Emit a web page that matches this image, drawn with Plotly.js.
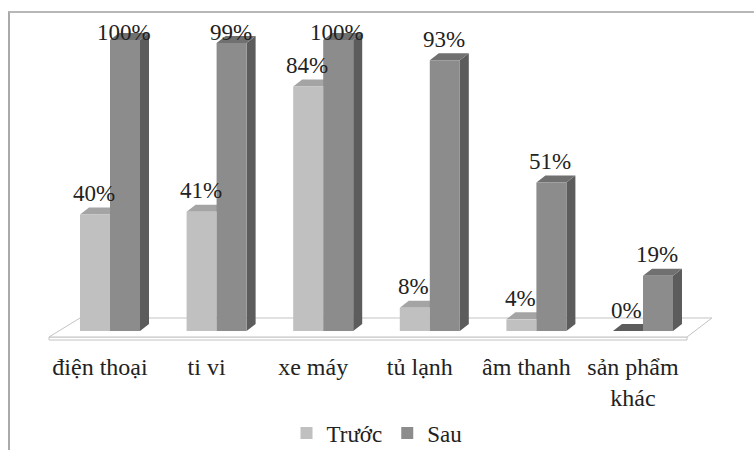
<!DOCTYPE html>
<html>
<head>
<meta charset="utf-8">
<script src="https://cdn.plot.ly/plotly-3.0.1.min.js"></script>
<style>
  html, body { margin: 0; padding: 0; background: #ffffff; }
  #wrap { position: relative; width: 754px; height: 450px; overflow: hidden; }
  #frame { position: absolute; left: 8px; top: 11px; width: 800px; height: 500px;
           border-top: 2px solid #b8b8b8; border-left: 2px solid #aaaaaa; pointer-events: none; }
  #chart { position: absolute; left: 0; top: 0; width: 754px; height: 450px; }
</style>
</head>
<body>
<div id="wrap">
  <div id="chart"></div>
  <div id="frame"></div>
</div>
<script>
// Share of households owning each item, before and after
const categories = ['điện thoại', 'ti vi', 'xe máy', 'tủ lạnh', 'âm thanh', 'sản phẩm khác'];
const tickLabels = ['điện thoại', 'ti vi', 'xe máy', 'tủ lạnh', 'âm thanh', 'sản phẩm<br>khác'];
const seriesNames = ['Trước', 'Sau'];
const truoc = [40, 41, 84, 8, 4, 0];
const sau = [100, 99, 100, 93, 51, 19];

// Plot geometry (pixels) used to fake the 3D extrusion of each column
const W = 754, H = 450;
const M = { l: 14, r: 14, t: 14, b: 105, autoexpand: false };
const XR = [-0.9006, 5.910];
const YR = [-4.811, 108.93];
const pxX = (W - M.l - M.r) / (XR[1] - XR[0]);
const pxY = (H - M.t - M.b) / (YR[1] - YR[0]);
const DX = 9 / pxX;      // depth offset to the right
const DY = 7 / pxY;      // depth offset upwards
const BARGAP = 0.437;
const BW = (1 - BARGAP) / 2;

const FRONT = ['#c0c0c0', '#8c8c8c'];
const TOP = ['#a4a4a4', '#707070'];
const SIDE = ['#8a8a8a', '#5c5c5c'];
const FONT = '"Times New Roman", "Liberation Serif", "DejaVu Serif", serif';
const INK = '#222222';

const idx = categories.map((_, i) => i);

const traces = [truoc, sau].map((vals, s) => ({
  type: 'bar',
  name: seriesNames[s],
  x: idx,
  y: vals,
  marker: { color: FRONT[s], line: { width: 0 } },
  hoverinfo: 'skip'
}));

const poly = pts => 'M' + pts.map(p => p[0] + ',' + p[1]).join(' L') + ' Z';

const shapes = [];
// floor slab
shapes.push({
  type: 'path', xref: 'x', yref: 'y', layer: 'below',
  path: poly([[-0.572, -2.06], [5.413, -2.06], [5.413, -3.1], [-0.572, -3.1]]),
  fillcolor: '#ffffff', line: { color: '#c4c4c4', width: 1 }
});
shapes.push({
  type: 'path', xref: 'x', yref: 'y', layer: 'below',
  path: poly([[-0.281, 4.47], [5.647, 4.47], [5.413, -2.06], [-0.572, -2.06]]),
  fillcolor: '#ffffff', line: { color: '#c4c4c4', width: 1 }
});

// top and side faces of every column
[truoc, sau].forEach((vals, s) => {
  vals.forEach((v, i) => {
    const x0 = s === 0 ? i - BW : i;
    const x1 = x0 + BW;
    if (s === 1) {
      shapes.push({
        type: 'path', xref: 'x', yref: 'y', layer: 'below',
        path: poly([[x1, 0], [x1 + DX, DY], [x1 + DX, v + DY], [x1, v]]),
        fillcolor: SIDE[s], line: { width: 0 }
      });
    }
    shapes.push({
      type: 'path', xref: 'x', yref: 'y', layer: 'below',
      path: poly([[x0, v], [x0 + DX, v + DY], [x1 + DX, v + DY], [x1, v]]),
      fillcolor: v === 0 ? SIDE[1] : TOP[s], line: { width: 0 }
    });
  });
});

// value labels above each column, held inside the plot near the top
const LABEL_CAP = 95.5;
const annotations = [];
[truoc, sau].forEach((vals, s) => {
  vals.forEach((v, i) => {
    annotations.push({
      xref: 'x', yref: 'y',
      x: (s === 0 ? i - BW / 2 : i + BW / 2) - 0.01,
      y: Math.min(v, LABEL_CAP),
      yshift: 21,
      text: v + '%',
      showarrow: false,
      xanchor: 'center', yanchor: 'middle',
      font: { family: FONT, size: 23, color: INK }
    });
  });
});

const layout = {
  width: W, height: H,
  margin: M,
  paper_bgcolor: 'rgba(0,0,0,0)',
  plot_bgcolor: 'rgba(0,0,0,0)',
  font: { family: FONT, color: INK },
  barmode: 'group',
  bargap: BARGAP,
  bargroupgap: 0,
  showlegend: true,
  legend: {
    orientation: 'h', x: 0.5, xanchor: 'center',
    y: (M.b - (H - 433)) / -(H - M.t - M.b), yanchor: 'middle',
    font: { family: FONT, size: 23, color: INK },
    itemwidth: 30, traceorder: 'normal'
  },
  xaxis: {
    range: XR, fixedrange: true, automargin: false,
    tickvals: idx, ticktext: tickLabels,
    ticklabelshift: -10,
    ticklabelstandoff: 5,
    ticks: '', showgrid: false, zeroline: false, showline: false,
    tickfont: { family: FONT, size: 24, color: INK }
  },
  yaxis: {
    range: YR, fixedrange: true, automargin: false,
    visible: false, showgrid: false, zeroline: false
  },
  shapes: shapes,
  annotations: annotations
};

Plotly.newPlot('chart', traces, layout, { staticPlot: true, displayModeBar: false });
</script>
</body>
</html>
